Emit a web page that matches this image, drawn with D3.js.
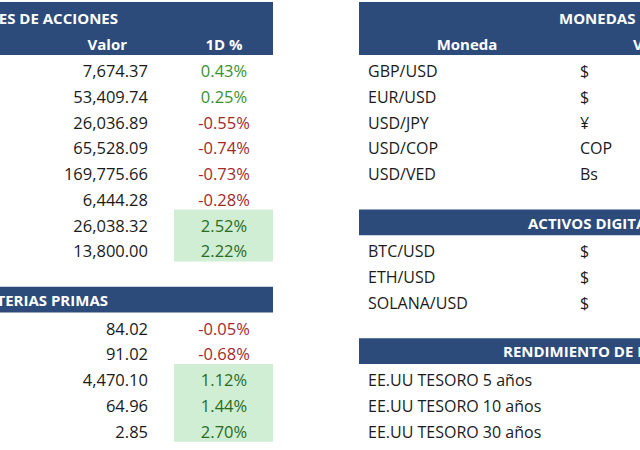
<!DOCTYPE html>
<html>
<head>
<meta charset="utf-8">
<script src="https://cdn.jsdelivr.net/npm/d3@7"></script>
<style>
  body { margin: 0; background: #fff; }
  svg { display: block; }
  text { font-family: "Open Sans", sans-serif; }
</style>
</head>
<body>
<script>
// ---- data ----
var indexValues = [7674.37, 53409.74, 26036.89, 65528.09, 169775.66, 6444.28, 26038.32, 13800.00];
var indexChange = [0.43, 0.25, -0.55, -0.74, -0.73, -0.28, 2.52, 2.22];

var commodityValues = [84.02, 91.02, 4470.10, 64.96, 2.85];
var commodityChange = [-0.05, -0.68, 1.12, 1.44, 2.70];

var currencyPairs = ['GBP/USD', 'EUR/USD', 'USD/JPY', 'USD/COP', 'USD/VED'];
var currencySymbols = ['$', '$', '¥', 'COP', 'Bs'];

var cryptoPairs = ['BTC/USD', 'ETH/USD', 'SOLANA/USD'];
var cryptoSymbols = ['$', '$', '$'];

var bondNames = ['EE.UU TESORO 5 años', 'EE.UU TESORO 10 años', 'EE.UU TESORO 30 años'];

var titles = ['ÍNDICES DE ACCIONES', 'MATERIAS PRIMAS', 'MONEDAS', 'ACTIVOS DIGITALES', 'RENDIMIENTO DE BONOS'];
var subHeaders = ['Valor', '1D %', 'Moneda', 'Valor'];

var width = 640;
var height = 450;

var headFill = '#2c4a7a';
var upColor = '#3a8f2e';
var downColor = '#a32a2a';
var goodFill = '#cfeed3';
var goodText = '#2a6b22';

var loc = d3.formatLocale({decimal: '.', thousands: ',', grouping: [3], currency: ['$', ''], minus: '-'});
var fmtVal = loc.format(',.2f');
var fmtPct = loc.format('.2f');

// spreadsheet rows: row r -> top of the cell
var row = d3.scaleLinear().domain([2, 3]).range([55, 80.75]);
var rowH = row(3) - row(2);

// columns
var col = {
	leftEnd: 273,
	value: 148,
	pctL: 174,
	pct: 224,
	rightStart: 359,
	name: 368,
	symbol: 580,
	moneda: 467,
	valorR: 633
};

var svg = d3.select('body').append('svg')
	.attr('width', width)
	.attr('height', height);

function header(x0, x1, r0, r1){
	svg.append('rect')
		.attr('x', x0)
		.attr('y', r0 === 0 ? 2 : row(r0))
		.attr('width', x1 - x0)
		.attr('height', row(r1 + 1) - (r0 === 0 ? 2 : row(r0)))
		.attr('fill', headFill);
}

function label(x, r, txt, opts){
	opts = opts || {};
	return svg.append('text')
		.attr('x', x)
		.attr('y', row(r) + (opts.dy || 22))
		.attr('text-anchor', opts.anchor || 'start')
		.attr('font-size', opts.size || 16)
		.attr('font-weight', opts.bold ? 700 : 400)
		.attr('fill', opts.color || '#1a1a1a')
		.text(txt);
}

// ---- left: indices ----
header(-10, col.leftEnd, 0, 1);
label(118, 0, titles[0], {anchor: 'end', bold: true, size: 15, color: '#fff', dy: 20.5});
label(127, 1, subHeaders[0], {anchor: 'end', bold: true, size: 15, color: '#fff', dy: 20.5});
label(col.pct, 1, subHeaders[1], {anchor: 'middle', bold: true, size: 15, color: '#fff', dy: 20.5});

function changeRows(values, changes, r0){
	var g = svg.append('g');
	var rows = g.selectAll('g').data(values.map(function(v, i){ return {v: v, c: changes[i], r: r0 + i}; }))
		.enter().append('g');

	rows.filter(function(d){ return d.c >= 1; })
		.append('rect')
		.attr('x', col.pctL)
		.attr('y', function(d){ return row(d.r); })
		.attr('width', col.leftEnd - col.pctL)
		.attr('height', rowH + 0.5)
		.attr('fill', goodFill);

	rows.append('text')
		.attr('x', col.value)
		.attr('y', function(d){ return row(d.r) + 22; })
		.attr('text-anchor', 'end')
		.attr('font-size', 16.5)
		.attr('fill', '#1a1a1a')
		.text(function(d){ return fmtVal(d.v); });

	rows.append('text')
		.attr('x', col.pct)
		.attr('y', function(d){ return row(d.r) + 22; })
		.attr('text-anchor', 'middle')
		.attr('font-size', 16.5)
		.attr('fill', function(d){ return d.c >= 1 ? goodText : (d.c < 0 ? downColor : upColor); })
		.text(function(d){ return fmtPct(d.c) + '%'; });
}

changeRows(indexValues, indexChange, 2);

// ---- left: commodities ----
header(-10, col.leftEnd, 11, 11);
label(108, 11, titles[1], {anchor: 'end', bold: true, size: 15, color: '#fff', dy: 19});
changeRows(commodityValues, commodityChange, 12);

// ---- right: currencies ----
header(col.rightStart, width + 10, 0, 1);
label(559, 0, titles[2], {bold: true, size: 15, color: '#fff', dy: 20.5});
label(col.moneda, 1, subHeaders[2], {anchor: 'middle', bold: true, size: 15, color: '#fff', dy: 20.5});
label(col.valorR, 1, subHeaders[3], {bold: true, size: 15, color: '#fff', dy: 20.5});

function nameRows(names, symbols, r0){
	names.forEach(function(n, i){
		label(col.name, r0 + i, n, {size: 16});
		if(symbols){
			label(col.symbol, r0 + i, symbols[i], {size: 16});
		}
	});
}

nameRows(currencyPairs, currencySymbols, 2);

// ---- right: digital assets ----
header(col.rightStart, width + 10, 8, 8);
label(528, 8, titles[3], {bold: true, size: 15, color: '#fff', dy: 19});
nameRows(cryptoPairs, cryptoSymbols, 9);

// ---- right: bonds ----
header(col.rightStart, width + 10, 13, 13);
label(503, 13, titles[4], {bold: true, size: 15, color: '#fff', dy: 19});
nameRows(bondNames, null, 14);
</script>
</body>
</html>
